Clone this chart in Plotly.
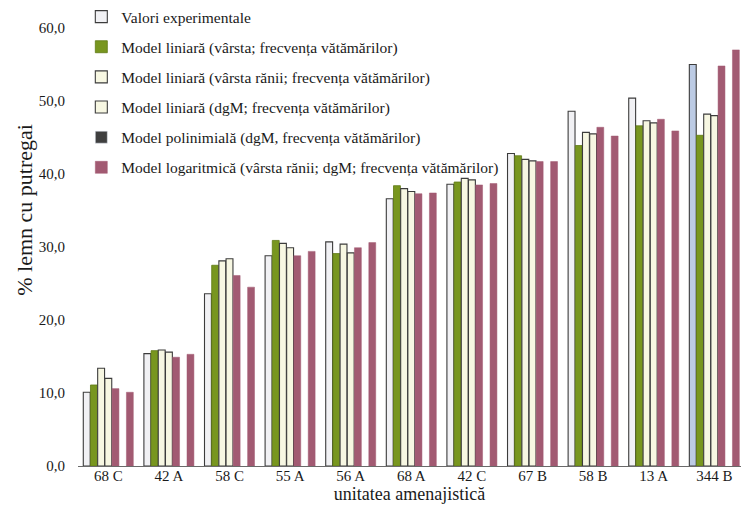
import plotly.graph_objects as go

# Management units (unitatea amenajistică)
units = ["68 C", "42 A", "58 C", "55 A", "56 A", "68 A", "42 C", "67 B", "58 B", "13 A", "344 B"]

# % of rotten wood: measured values and model estimates
valori_experimentale = [10.1, 15.4, 23.6, 28.8, 30.7, 36.6, 38.6, 42.8, 48.6, 50.4, 55.0]
liniar_varsta = [11.1, 15.8, 27.5, 30.9, 29.1, 38.4, 38.9, 42.5, 43.9, 46.6, 45.3]
liniar_varsta_ranii = [13.4, 15.9, 28.1, 30.5, 30.4, 38.0, 39.4, 42.0, 45.7, 47.3, 48.2]
liniar_dgm = [12.0, 15.6, 28.4, 29.9, 29.2, 37.6, 39.2, 41.8, 45.5, 47.0, 48.0]
polinomial_dgm = [10.6, 14.9, 26.1, 28.8, 29.9, 37.3, 38.5, 41.7, 46.4, 47.5, 54.8]
logaritmic = [10.1, 15.3, 24.5, 29.4, 30.6, 37.4, 38.7, 41.7, 45.2, 45.9, 57.0]

names = [
    "Valori experimentale",
    "Model liniară (vârsta; frecvența vătămărilor)",
    "Model liniară (vârsta rănii; frecvența vătămărilor)",
    "Model liniară (dgM; frecvența vătămărilor)",
    "Model polinimială (dgM, frecvența vătămărilor)",
    "Model logaritmică (vârsta rănii; dgM; frecvența vătămărilor)",
]

SERIF = "Liberation Serif"
TEXT = "#1a1a1a"
OUTLINE = "#3c3c3c"
GREEN = "#78961f"
CREAM = "#f7f7e2"
MAUVE = "#a25a72"
DARK = "#3f3f3f"

exp_colors = ["#f1f1f4"] * len(units)
exp_colors[-1] = "#bccbe4"

fig = go.Figure()

fig.add_trace(go.Bar(
    x=units, y=valori_experimentale, name=names[0], legendgroup="g0",
    marker=dict(color=exp_colors, line=dict(color=OUTLINE, width=1.1)),
))
fig.add_trace(go.Bar(
    x=units, y=liniar_varsta, name=names[1], legendgroup="g1",
    marker=dict(color=GREEN, line=dict(color="#5f7a14", width=0.8)),
))
fig.add_trace(go.Bar(
    x=units, y=liniar_varsta_ranii, name=names[2], legendgroup="g2",
    marker=dict(color=CREAM, line=dict(color=OUTLINE, width=1.1)),
))
fig.add_trace(go.Bar(
    x=units, y=liniar_dgm, name=names[3], legendgroup="g3",
    marker=dict(color=CREAM, line=dict(color=OUTLINE, width=1.1)),
))
fig.add_trace(go.Bar(
    x=units, y=polinomial_dgm, name=names[4], legendgroup="g4", showlegend=False,
    marker=dict(color=MAUVE, line=dict(color=MAUVE, width=0.5)),
))
# legend key for the polynomial model
fig.add_trace(go.Bar(
    x=[units[0]], y=[None], name=names[4], legendgroup="g4", showlegend=True,
    marker=dict(color=DARK), hoverinfo="skip",
))
fig.add_trace(go.Bar(
    x=units, y=logaritmic, name=names[5], legendgroup="g5",
    marker=dict(color=MAUVE, line=dict(color=MAUVE, width=0.5)),
))

fig.update_layout(
    width=741, height=513,
    margin=dict(l=78, r=0, t=27, b=47),
    paper_bgcolor="white", plot_bgcolor="white",
    barmode="group", bargap=0.17, bargroupgap=0.04,
    separators=",.",
    font=dict(family=SERIF, size=15, color=TEXT),
    legend=dict(
        x=0.005, y=1.064, xanchor="left", yanchor="top",
        bgcolor="rgba(255,255,255,0)",
        font=dict(family=SERIF, size=15.5, color=TEXT),
        traceorder="grouped", tracegroupgap=7,
    ),
    xaxis=dict(
        type="category", range=[-0.5, 10.44],
        showline=True, linecolor="#6a6a6a", linewidth=1,
        ticks="", showgrid=False, ticklabelstandoff=-4,
        tickfont=dict(family=SERIF, size=15, color=TEXT),
        title=dict(text="unitatea amenajistică", standoff=2,
                   font=dict(family=SERIF, size=18, color=TEXT)),
    ),
    yaxis=dict(
        range=[0, 60], dtick=10, tickformat=".1f",
        showline=False, showgrid=False, zeroline=False,
        ticks="", ticklabelstandoff=12,
        tickfont=dict(family=SERIF, size=15, color=TEXT),
    ),
    annotations=[dict(
        text="% lemn cu putregai", textangle=-90,
        xref="paper", yref="paper", x=-0.08, y=0.585,
        xanchor="center", yanchor="middle", showarrow=False,
        font=dict(family=SERIF, size=22, color=TEXT),
    )],
)

fig.write_html("out.html")
